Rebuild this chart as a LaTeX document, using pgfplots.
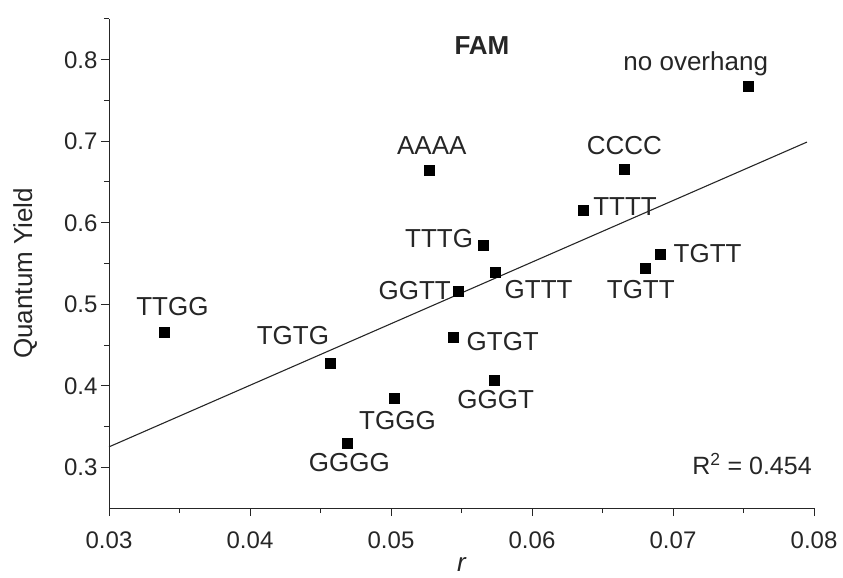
\documentclass[border=0pt]{standalone}
\usepackage{fontspec}
\setmainfont{Liberation Sans}
\usepackage{pgfplots}
\pgfplotsset{compat=1.18}
\begin{document}
\begin{tikzpicture}
\begin{axis}[
  name=ax,
  scale only axis,
  width=705pt, height=489pt,
  xmin=0.03, xmax=0.08, ymin=0.25, ymax=0.85,
  axis lines=left,
  axis line style={-, line width=1pt, black!85},
  tick align=outside,
  major tick length=8pt, minor tick length=5pt,
  tick style={line width=1pt, black!85},
  xtick={0.03,0.04,0.05,0.06,0.07,0.08},
  minor xtick={0.035,0.045,0.055,0.065,0.075},
  ytick={0.3,0.4,0.5,0.6,0.7,0.8},
  minor ytick={0.35,0.45,0.55,0.65,0.75,0.85},
  scaled x ticks=false, scaled y ticks=false,
  /pgf/number format/assume math mode=true,
  xticklabel style={font=\fontsize{24}{28}\selectfont, /pgf/number format/fixed, /pgf/number format/precision=2, text=black!85, yshift=-12pt},
  yticklabel style={font=\fontsize{24}{28}\selectfont, /pgf/number format/fixed, /pgf/number format/precision=1, text=black!85},
  xlabel={\itshape r},
  ylabel={Quantum Yield},
  every axis x label/.style={at={(axis description cs:0.5,-0.129)}, anchor=base, inner sep=0pt, font=\fontsize{26}{30}\selectfont, text=black!85},
  every axis y label/.style={at={(axis description cs:-0.119,0.48)}, anchor=center, rotate=90, font=\fontsize{26}{30}\selectfont, text=black!85},
  clip=false,
]
\addplot[black!85, line width=1.1pt] coordinates {(0.03,0.325) (0.0795,0.699)};
\addplot[only marks, mark=square*, mark size=5pt, black,
  nodes near coords, point meta=explicit symbolic,
  visualization depends on={\thisrow{dx}\as\myDX},
  visualization depends on={\thisrow{dy}\as\myDY},
  every node near coord/.append style={anchor=center, xshift=\myDX pt, yshift=\myDY pt, font=\fontsize{26}{30}\selectfont, text=black!85, inner sep=0pt}]
  table[col sep=comma, x=x, y=y, meta=label] {
x,y,label,dx,dy
0.0339,0.466,TTGG,8.4,25.2
0.0457,0.4275,TGTG,-37.5,28
0.0469,0.329,GGGG,2,-18.5
0.0502,0.385,TGGG,3.7,-22.7
0.0527,0.664,AAAA,2.7,24.7
0.06655,0.666,CCCC,0,23.3
0.0636,0.616,TTTT,42.3,3
0.05655,0.573,TTTG,-44.3,6
0.0548,0.516,GGTT,-44,0.7
0.0574,0.539,GTTT,43.3,-17
0.0544,0.459,GTGT,49.7,-3.4
0.0573,0.407,GGGT,1.7,-19.3
0.0691,0.562,TGTT,47.3,0
0.0680,0.544,TGTT,-4,-21
0.0753,0.767,no overhang,-52,23
};
\node[anchor=base east, font=\fontsize{25}{30}\selectfont, text=black!85, inner sep=0pt] at (axis cs:0.07985,0.2915) {R\textsuperscript{2} = 0.454};
\node[anchor=center, font=\bfseries\fontsize{26}{30}\selectfont, text=black!85] at (axis cs:0.05645,0.8173) {FAM};
\end{axis}
\pgfresetboundingbox
\path[use as bounding box] ([xshift=-109pt,yshift=-69pt]ax.south west) rectangle ([xshift=29pt,yshift=19pt]ax.north east);
\end{tikzpicture}
\end{document}
